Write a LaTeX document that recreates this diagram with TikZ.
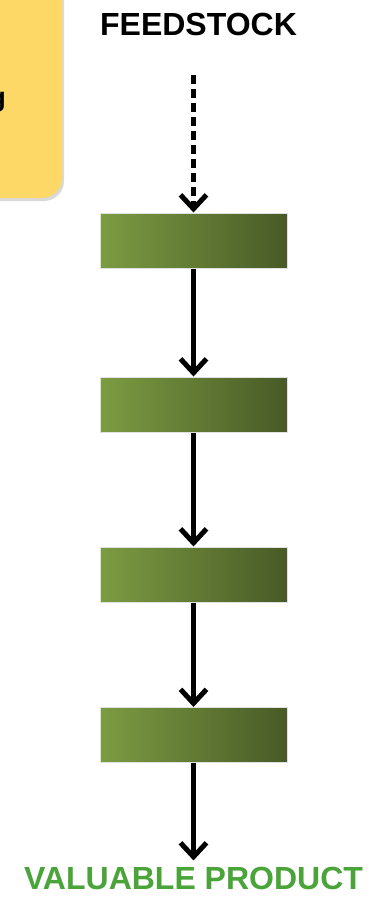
\documentclass[tikz,border=0pt]{standalone}
\usepackage{fontspec}
\setmainfont{Liberation Sans}
\usetikzlibrary{arrows.meta,shadows}
\definecolor{boxleft}{RGB}{124,156,66}
\definecolor{boxright}{RGB}{72,90,38}
\definecolor{notey}{RGB}{253,216,102}
\definecolor{prodgreen}{RGB}{74,164,58}
\tikzset{
  stagebox/.style={rectangle, minimum width=187pt, minimum height=55pt, inner sep=0pt,
    left color=boxleft, right color=boxright, draw=black!12, line width=1pt},
  flow/.style={line width=5pt, -{Straight Barb[length=14pt,width=26pt]}},
  title/.style={font=\fontsize{32}{38}\selectfont\bfseries, inner sep=0pt}
}
\begin{document}
\begin{tikzpicture}[x=1pt,y=-1pt]
\useasboundingbox (0,0) rectangle (382,903);
\begin{scope}
\clip (0,0) rectangle (382,903);
\fill[black!15] (-40,-40) [rounded corners=20pt] -- (64,-40) -- (64,201) -- (-40,201) [sharp corners] -- cycle;
\fill[notey] (-40,-40) [rounded corners=20pt] -- (62,-40) -- (62,198) -- (-40,198) [sharp corners] -- cycle;
\node[font=\fontsize{27}{32}\selectfont\bfseries, anchor=base east, inner sep=0pt] (notetext) at (6,106) {g};
\end{scope}
\node[title, anchor=base] (feed) at (198.5,35) {FEEDSTOCK};
\coordinate (feedstart) at (193.5,75);
\node[stagebox] (b1) at (193.5,240.5) {};
\node[stagebox] (b2) at (193.5,404.5) {};
\node[stagebox] (b3) at (193.5,574.5) {};
\node[stagebox] (b4) at (193.5,735) {};
\node[title, text=prodgreen, anchor=base, inner ysep=6pt] (prod) at (193.5,889) {VALUABLE PRODUCT};
\draw[flow, dash pattern=on 9pt off 5pt] (feedstart) -- (b1.north);
\draw[flow] (b1.south) -- (b2.north);
\draw[flow] (b2.south) -- (b3.north);
\draw[flow] (b3.south) -- (b4.north);
\draw[flow] (b4.south) -- (prod.north);
\end{tikzpicture}
\end{document}
